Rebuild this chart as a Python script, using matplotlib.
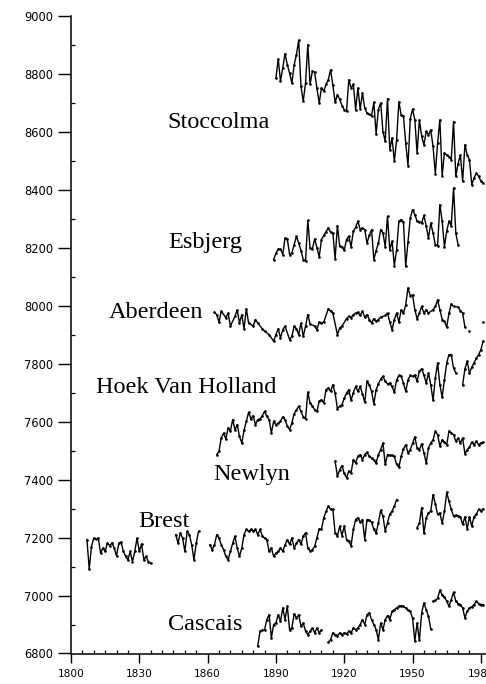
import numpy as np
import matplotlib
matplotlib.use("Agg")
import matplotlib.pyplot as plt
from matplotlib.ticker import MultipleLocator

# ---------------- data (mean sea level, mm) ----------------
stockholm_start = 1890
stockholm = [8785, 8851, 8774, 8820, 8869, 8831, 8802, 8768, 8830, 8866,
             8915, 8756, 8705, 8768, 8900, 8763, 8808, 8805, 8750, 8699,
             8751, 8740, 8763, 8779, 8814, 8760, 8701, 8728, 8711, 8690,
             8676, 8670, 8779, 8751, 8763, 8676, 8751, 8678, 8733, 8681,
             8664, 8660, 8655, 8701, 8593, 8676, 8699, 8600, 8567, 8714,
             8538, 8578, 8498, 8572, 8703, 8657, 8655, 8560, 8483, 8644,
             8678, 8641, 8526, 8641, 8584, 8555, 8601, 8589, 8606, 8549,
             8455, 8560, 8641, 8448, 8526, 8520, 8514, 8503, 8635, 8446,
             8490, 8520, 8429, 8555, 8520, 8503, 8417, 8440, 8457, 8446,
             8430, 8423]

esbjerg_start = 1889
esbjerg = [8159, 8180, 8195, 8195, 8176, 8233, 8230, 8176, 8182, 8210,
           8239, 8216, 8190, 8159, 8153, 8294, 8199, 8195, 8230, 8200,
           8168, 8228, 8242, 8255, 8268, 8253, 8250, 8162, 8276, 8205,
           8203, 8191, 8228, 8239, 8203, 8257, 8270, 8291, 8262, 8268,
           8262, 8216, 8242, 8262, 8159, 8190, 8216, 8262, 8250, 8203,
           8308, 8193, 8222, 8138, 8193, 8291, 8297, 8288, 8136, 8220,
           8302, 8331, 8314, 8291, 8290, 8285, 8311, 8274, 8233, 8285,
           8250, 8210, 8207, 8348, 8291, 8203, 8257, 8291, 8276, 8406,
           8250, 8210]

aberdeen_years = [1863, 1864, 1865, 1866, 1868, 1869, 1870, 1872, 1873, 1874,
                  1875, 1876, 1877, 1878, 1880, 1881, 1882, 1884, 1885, 1887,
                  1889, 1890, 1891, 1892, 1893, 1894, 1896, 1897, 1898, 1899,
                  1900, 1901, 1902, 1903, 1904, 1905, 1907, 1908, 1909, 1910,
                  1911, 1913, 1914, 1915, 1917, 1918, 1919, 1921, 1922, 1923,
                  1924, 1925, 1926, 1927, 1928, 1929, 1930, 1931, 1932, 1933,
                  1934, 1935, 1936, 1938, 1939, 1940, 1941, 1942, 1943, 1944,
                  1945, 1946, 1947, 1948, 1949, 1950, 1951, 1952, 1953, 1954,
                  1955, 1956, 1957, 1959, 1960, 1961, 1962, 1963, 1964, 1965,
                  1966, 1967, 1968, 1970, 1971, 1972, 1973]
aberdeen = [7977, 7969, 7943, 7981, 7958, 7974, 7929, 7963, 7985, 7940,
            7969, 7920, 7989, 7940, 7929, 7952, 7940, 7920, 7912, 7900,
            7877, 7900, 7920, 7889, 7917, 7929, 7883, 7894, 7929, 7920,
            7900, 7940, 7894, 7929, 7969, 7937, 7929, 7917, 7943, 7940,
            7943, 7989, 7981, 7974, 7900, 7923, 7929, 7955, 7963, 7958,
            7969, 7974, 7977, 7966, 7981, 7960, 7969, 7952, 7940, 7955,
            7946, 7952, 7960, 7966, 7974, 7943, 7917, 7952, 7974, 7943,
            7985, 7974, 8003, 8061, 8034, 8037, 7986, 7955, 7974, 7997,
            7974, 7986, 7974, 7986, 7997, 8020, 7986, 7952, 7946, 7926,
            7974, 8006, 7997, 7995, 7983, 7974, 7926]
aberdeen_late_years = [1975]
aberdeen_late = [7911]
aberdeen_end_years = [1981]
aberdeen_end = [7943]

hoek_years_1 = [1864, 1865, 1866, 1867, 1868, 1869, 1870, 1871, 1872, 1873,
                1874, 1875, 1876, 1877, 1878, 1879, 1880, 1881, 1882, 1883,
                1884, 1885, 1886, 1887, 1888, 1889, 1890, 1891, 1892, 1893,
                1894, 1895, 1896, 1897, 1898, 1899, 1900, 1901, 1902, 1903,
                1904, 1905, 1906, 1907, 1908, 1909, 1910, 1911, 1912, 1913,
                1914, 1915, 1916, 1917, 1918, 1919, 1920, 1921, 1922, 1923,
                1924, 1925, 1926, 1927, 1928, 1929, 1930, 1931, 1932, 1933,
                1934, 1935, 1936, 1937, 1938, 1939, 1940, 1941, 1942, 1943,
                1944, 1945, 1946, 1947, 1948, 1949, 1950, 1951, 1952, 1953,
                1954, 1955, 1956, 1957, 1958, 1959, 1960, 1961, 1962, 1963,
                1964, 1965, 1966, 1967, 1968, 1969]
hoek_1 = [7486, 7498, 7544, 7560, 7540, 7578, 7567, 7607, 7572, 7589,
          7549, 7526, 7570, 7601, 7632, 7609, 7620, 7589, 7607, 7609,
          7620, 7635, 7618, 7607, 7561, 7601, 7589, 7595, 7601, 7616,
          7607, 7584, 7572, 7595, 7627, 7640, 7653, 7635, 7616, 7609,
          7701, 7664, 7653, 7641, 7635, 7670, 7675, 7664, 7710, 7716,
          7704, 7727, 7698, 7644, 7653, 7658, 7681, 7698, 7710, 7673,
          7700, 7721, 7704, 7721, 7696, 7666, 7739, 7727, 7704, 7661,
          7710, 7730, 7747, 7756, 7739, 7730, 7733, 7721, 7701, 7744,
          7759, 7756, 7733, 7704, 7744, 7759, 7756, 7761, 7739, 7774,
          7782, 7760, 7733, 7767, 7727, 7673, 7750, 7802, 7727, 7684,
          7744, 7802, 7831, 7831, 7785, 7767]
hoek_years_2 = [1972, 1973, 1974, 1975, 1976, 1977, 1978, 1979, 1980, 1981]
hoek_2 = [7727, 7782, 7808, 7767, 7788, 7802, 7819, 7830, 7848, 7877]

newlyn_start = 1916
newlyn = [7463, 7411, 7434, 7448, 7421, 7406, 7429, 7423, 7469, 7457,
          7480, 7486, 7469, 7486, 7494, 7480, 7474, 7466, 7457, 7486,
          7503, 7526, 7452, 7486, 7483, 7483, 7480, 7452, 7443, 7480,
          7506, 7520, 7492, 7503, 7525, 7547, 7509, 7503, 7523, 7492,
          7457, 7509, 7526, 7537, 7567, 7555, 7515, 7537, 7529, 7520,
          7567, 7561, 7555, 7532, 7543, 7526, 7543, 7489, 7503, 7512,
          7529, 7520, 7532, 7520, 7526, 7529]

brest_start_1 = 1807
brest_1 = [7193, 7092, 7169, 7198, 7195, 7198, 7146, 7164, 7152, 7181,
           7172, 7181, 7164, 7136, 7181, 7184, 7152, 7135, 7123, 7152,
           7117, 7152, 7198, 7152, 7178, 7123, 7135, 7117, 7111]
brest_start_2 = 1846
brest_2 = [7210, 7181, 7216, 7198, 7152, 7221, 7210, 7175, 7123, 7181, 7221]
brest_start_3 = 1861
brest_3 = [7175, 7158, 7175, 7210, 7198, 7175, 7158, 7135, 7123, 7152,
           7180, 7204, 7164, 7135, 7164, 7210, 7228, 7221, 7228, 7221,
           7228, 7210, 7228, 7206, 7198, 7193, 7152, 7164, 7135, 7146,
           7152, 7164, 7152, 7175, 7193, 7176, 7199, 7164, 7180, 7193,
           7176, 7205, 7216, 7164, 7153, 7158, 7170, 7199, 7230, 7228,
           7268, 7290, 7308, 7297, 7297, 7216, 7205, 7239, 7207, 7239,
           7193, 7187, 7172, 7228, 7262, 7268, 7253, 7262, 7193, 7262,
           7259, 7253, 7228, 7216, 7251, 7294, 7274, 7222, 7251, 7280,
           7291, 7308, 7331]
brest_start_4 = 1952
brest_4 = [7234, 7249, 7303, 7214, 7268, 7285, 7291, 7348, 7317, 7280,
           7285, 7249, 7291, 7356, 7325, 7297, 7274, 7277, 7275, 7272,
           7245, 7272, 7230, 7272, 7239, 7272, 7280, 7297, 7291, 7299]

cascais_start_1 = 1882
cascais_1 = [6825, 6877, 6880, 6882, 6917, 6934, 6854, 6900, 6905, 6934,
             6911, 6957, 6917, 6963, 6882, 6888, 6937, 6922, 6934, 6894,
             6905, 6877, 6865, 6877, 6888, 6871, 6888, 6871, 6882]
cascais_start_2 = 1913
cascais_2 = [6839, 6848, 6871, 6865, 6862, 6871, 6865, 6871, 6868, 6877,
             6871, 6888, 6882, 6888, 6900, 6917, 6900, 6934, 6940, 6917,
             6900, 6882, 6848, 6905, 6882, 6917, 6931, 6917, 6945, 6951,
             6957, 6963, 6965, 6963, 6957, 6951, 6945, 6922, 6843, 6905,
             6845, 6940, 6974, 6951, 6928, 6885]
cascais_start_3 = 1959
cascais_3 = [6980, 6983, 6990, 7018, 7003, 6995, 6980, 6963, 6986, 7011,
             6980, 6972, 6969, 6957, 6923, 6946, 6957, 6961, 6969, 6980,
             6972, 6969, 6969]

station_names = ["Stoccolma", "Esbjerg", "Aberdeen", "Hoek Van Holland",
                 "Newlyn", "Brest", "Cascais"]
label_x = [1865.0, 1859.1, 1837.5, 1850.7, 1879.3, 1840.8, 1859.1]
label_y = [8612, 8200, 7957, 7698, 7398, 7236, 6881]

x_ticks = [1800, 1830, 1860, 1890, 1920, 1950, 1980]
y_ticks = [6800, 7000, 7200, 7400, 7600, 7800, 8000, 8200, 8400, 8600, 8800, 9000]

# ---------------- figure ----------------
W, H = 486, 684
fig = plt.figure(figsize=(W / 100, H / 100), dpi=100)
ax = fig.add_axes([71 / W, (H - 653.5) / H, 415 / W, (653.5 - 15.7) / H])
ax.set_xlim(1800, 1800 + 415 / 2.277)
ax.set_ylim(6800, 9000)

line_kw = dict(color="black", lw=1.0, marker="o", ms=1.9, mew=0, solid_joinstyle="round")


def plot_run(start, vals):
    yrs = np.arange(start, start + len(vals))
    ax.plot(yrs, vals, **line_kw)


plot_run(stockholm_start, stockholm)
plot_run(esbjerg_start, esbjerg)
ax.plot(aberdeen_years, aberdeen, **line_kw)
ax.plot(aberdeen_late_years, aberdeen_late, **line_kw)
ax.plot(aberdeen_end_years, aberdeen_end, **line_kw)
ax.plot(hoek_years_1, hoek_1, **line_kw)
ax.plot(hoek_years_2, hoek_2, **line_kw)
plot_run(newlyn_start, newlyn)
plot_run(brest_start_1, brest_1)
plot_run(brest_start_2, brest_2)
plot_run(brest_start_3, brest_3)
plot_run(brest_start_4, brest_4)
plot_run(cascais_start_1, cascais_1)
plot_run(cascais_start_2, cascais_2)
plot_run(cascais_start_3, cascais_3)

for name, lx, ly in zip(station_names, label_x, label_y):
    ax.text(lx, ly, name, ha="center", va="baseline",
            fontfamily="Liberation Serif", fontsize=17.5, color="black")

# axes styling
for s in ("top", "right"):
    ax.spines[s].set_visible(False)
ax.spines["left"].set_linewidth(1.1)
ax.spines["bottom"].set_linewidth(1.1)

ax.set_xticks(x_ticks)
ax.set_xticklabels([str(t) for t in x_ticks], fontfamily="DejaVu Sans", fontsize=7.6)
ax.xaxis.set_minor_locator(MultipleLocator(5))
ax.tick_params(axis="x", which="major", direction="out", length=6.5, width=1.0, pad=5)
ax.tick_params(axis="x", which="minor", direction="in", length=2.8, width=0.9)

ax.set_yticks(y_ticks)
ax.set_yticklabels([str(t) for t in y_ticks], fontfamily="DejaVu Sans", fontsize=8.3)
ax.yaxis.set_minor_locator(MultipleLocator(100))
ax.tick_params(axis="y", which="major", direction="out", length=9.5, width=1.0, pad=3.5)
ax.tick_params(axis="y", which="minor", direction="in", length=3, width=0.9)

fig.savefig("out.png", dpi=100)
